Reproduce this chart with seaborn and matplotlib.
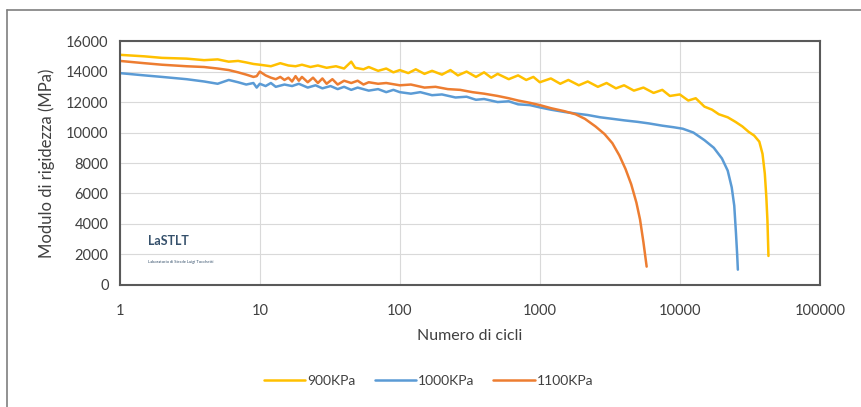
import pandas as pd
import seaborn as sns
import matplotlib.pyplot as plt
from matplotlib.lines import Line2D

# 900 KPa
cyc_900 = [1, 1.5, 2, 3, 4, 5, 6, 7, 8, 9, 10, 12, 14, 16, 18, 20, 23, 26, 30, 35,
           40, 45, 48, 55, 60, 70, 80, 90, 100, 115, 130, 150, 170, 200, 230, 260,
           300, 350, 400, 450, 500, 600, 700, 800, 900, 1000, 1200, 1400, 1600,
           1900, 2200, 2600, 3000, 3500, 4000, 4700, 5500, 6500, 7500, 8500,
           10000, 11500, 13000, 15000, 17000, 19000, 22000, 25000, 28000, 31000,
           34000, 37000, 39000, 40500, 41500, 42300, 43000]
mod_900 = [15100, 15000, 14900, 14850, 14750, 14800, 14650, 14700, 14600, 14500,
           14450, 14350, 14550, 14400, 14350, 14450, 14300, 14400, 14250, 14350,
           14200, 14650, 14250, 14150, 14300, 14050, 14200, 13950, 14100, 13900,
           14150, 13850, 14050, 13800, 14100, 13750, 14000, 13650, 13950, 13600,
           13850, 13500, 13750, 13450, 13650, 13300, 13550, 13200, 13450, 13100,
           13350, 13000, 13250, 12900, 13100, 12750, 12950, 12600, 12800, 12400,
           12500, 12100, 12250, 11700, 11500, 11200, 11000, 10700, 10400, 10050,
           9800, 9400, 8600, 7300, 5800, 4200, 1900]

# 1000 KPa
cyc_1000 = [1, 1.5, 2, 3, 4, 5, 6, 7, 8, 9, 9.5, 10, 11, 12, 13, 15, 17, 19, 22, 25,
            28, 32, 36, 40, 45, 50, 60, 70, 80, 90, 100, 120, 140, 170, 200, 250,
            300, 350, 400, 500, 600, 700, 850, 1000, 1200, 1500, 1800, 2200, 2700,
            3300, 4000, 5000, 6000, 7500, 9000, 10500, 12500, 15000, 17500, 20000,
            22000, 23500, 24500, 25200, 25700, 26000]
mod_1000 = [13900, 13750, 13650, 13500, 13350, 13200, 13450, 13300, 13150, 13250,
            12950, 13200, 13050, 13250, 13000, 13150, 13050, 13200, 12950, 13100,
            12900, 13050, 12850, 13000, 12800, 12950, 12750, 12850, 12650, 12800,
            12650, 12550, 12650, 12450, 12500, 12300, 12350, 12150, 12200, 12000,
            12050, 11850, 11800, 11650, 11500, 11350, 11250, 11150, 11000, 10900,
            10800, 10700, 10600, 10450, 10350, 10250, 10000, 9500, 9000, 8300,
            7500, 6400, 5200, 3400, 2000, 1000]

# 1100 KPa
cyc_1100 = [1, 1.5, 2, 3, 4, 5, 6, 7, 8, 9, 9.5, 10, 11, 12, 13, 14, 15, 16, 17, 18,
            19, 20, 22, 24, 26, 28, 30, 33, 36, 40, 45, 50, 55, 60, 70, 80, 100,
            120, 150, 180, 220, 270, 330, 400, 500, 600, 700, 850, 1000, 1200,
            1500, 1800, 2100, 2500, 2900, 3300, 3700, 4100, 4500, 4900, 5200,
            5500, 5800]
mod_1100 = [14700, 14550, 14450, 14350, 14300, 14200, 14100, 13950, 13800, 13650,
            13700, 14000, 13750, 13600, 13500, 13650, 13450, 13600, 13350, 13700,
            13400, 13650, 13300, 13600, 13250, 13550, 13200, 13500, 13150, 13400,
            13250, 13400, 13150, 13300, 13200, 13250, 13100, 13150, 12950, 13000,
            12850, 12800, 12650, 12550, 12400, 12250, 12100, 11950, 11800, 11600,
            11400, 11200, 10900, 10400, 9900, 9300, 8500, 7600, 6600, 5400, 4300,
            2800, 1200]

labels = ['900KPa', '1000KPa', '1100KPa']
colors = ['#FFC000', '#5B9BD5', '#ED7D31']

df = pd.concat([
    pd.DataFrame({'cicli': cyc_900, 'modulo': mod_900, 'serie': labels[0]}),
    pd.DataFrame({'cicli': cyc_1000, 'modulo': mod_1000, 'serie': labels[1]}),
    pd.DataFrame({'cicli': cyc_1100, 'modulo': mod_1100, 'serie': labels[2]}),
])

sns.set_style('white')
plt.rcParams['font.family'] = ['Lato', 'DejaVu Sans']

fig = plt.figure(figsize=(8.62, 4.07), dpi=100)
ax = fig.add_axes([0.139, 0.300, 0.812, 0.599])

sns.lineplot(data=df, x='cicli', y='modulo', hue='serie', palette=colors,
             estimator=None, sort=False, linewidth=1.8, legend=False, ax=ax)

ax.set_xscale('log')
ax.set_xlim(1, 100000)
ax.set_ylim(0, 16000)
ax.set_yticks(range(0, 16001, 2000))
ax.set_xticks([1, 10, 100, 1000, 10000, 100000])
ax.set_xticklabels(['1', '10', '100', '1000', '10000', '100000'])
ax.minorticks_off()
ax.grid(True, color='#D9D9D9', linewidth=0.8)
ax.tick_params(labelsize=10.5, colors='#404040', length=0)
ax.tick_params(axis='y', pad=8)
ax.tick_params(axis='x', pad=14)
for s in ax.spines.values():
    s.set_color('#595959')
    s.set_linewidth(1.5)

ax.set_xlabel('Numero di cicli', fontsize=11.5, color='#404040', labelpad=8)
ax.set_ylabel('Modulo di rigidezza (MPa)', fontsize=12, color='#404040', labelpad=8)

# logo placeholder
ax.text(0.04, 0.165, 'LaSTLT', transform=ax.transAxes, fontsize=9,
        fontweight='bold', color='#35506b')
ax.text(0.04, 0.09, 'Laboratorio di Strade Luigi Tocchetti', transform=ax.transAxes,
        fontsize=3, color='#35506b')

handles = [Line2D([0], [0], color=c, linewidth=1.8) for c in colors]
fig.legend(handles, labels, loc='center', bbox_to_anchor=(0.497, 0.064), ncol=3,
           frameon=False, fontsize=10, handlelength=3, columnspacing=1.4,
           handletextpad=0.1, labelcolor='#404040')

# outer frame (left and top visible)
fig.add_artist(Line2D([0.008, 0.008], [0.0, 0.975], color='#7f7f7f', linewidth=1.2))
fig.add_artist(Line2D([0.008, 1.0], [0.975, 0.975], color='#7f7f7f', linewidth=1.2))

fig.savefig('out.png', dpi=100)
